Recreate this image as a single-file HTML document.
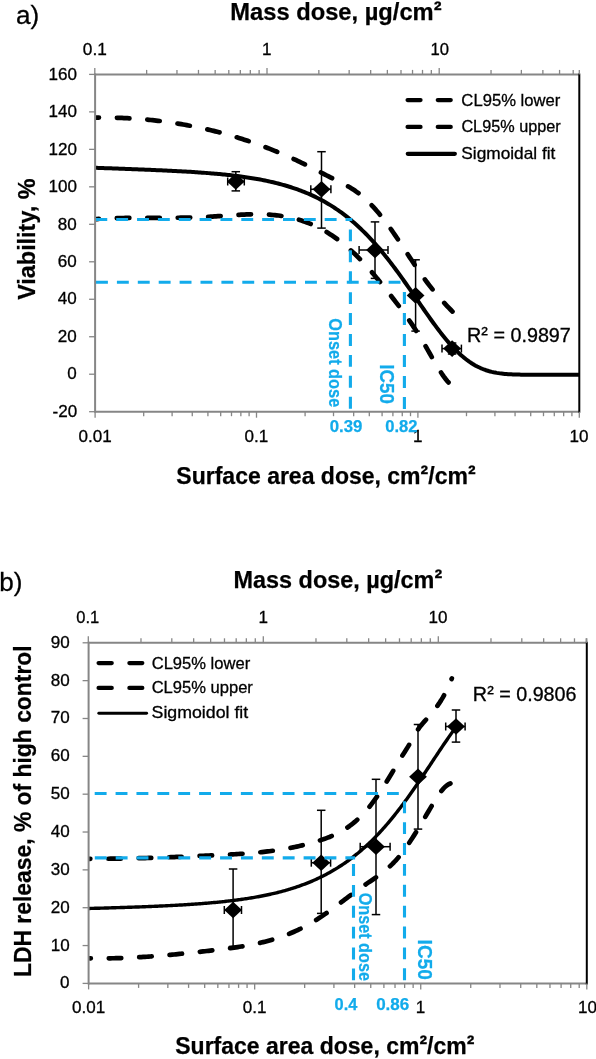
<!DOCTYPE html><html><head><meta charset="utf-8"><style>html,body{margin:0;padding:0;background:#fff;}svg{display:block;will-change:transform;}text{font-family:"Liberation Sans",sans-serif;}</style></head><body>
<svg width="596" height="1059" viewBox="0 0 596 1059">
<rect width="596" height="1059" fill="#fff"/>
<clipPath id="ca"><rect x="95.1" y="73.4" width="484.2" height="339.3"/></clipPath>
<path d="M95.1 117.59 L96.9 117.57 L98.69 117.56 L100.49 117.55 L102.28 117.55 L104.08 117.56 L105.88 117.57 L107.67 117.59 L109.47 117.61 L111.26 117.64 L113.06 117.68 L114.86 117.73 L116.65 117.78 L118.45 117.83 L120.24 117.9 L122.04 117.97 L123.84 118.05 L125.63 118.13 L127.43 118.22 L129.22 118.32 L131.02 118.42 L132.82 118.53 L134.61 118.65 L136.41 118.77 L138.2 118.9 L140 119.04 L141.8 119.18 L143.59 119.34 L145.39 119.49 L147.18 119.66 L148.98 119.83 L150.78 120.01 L152.57 120.2 L154.37 120.39 L156.16 120.59 L157.96 120.8 L159.76 121.01 L161.55 121.23 L163.35 121.46 L165.14 121.7 L166.94 121.94 L168.74 122.19 L170.53 122.45 L172.33 122.72 L174.12 122.99 L175.92 123.27 L177.72 123.56 L179.51 123.85 L181.31 124.15 L183.1 124.46 L184.9 124.78 L186.69 125.11 L188.49 125.44 L190.29 125.78 L192.08 126.13 L193.88 126.48 L195.67 126.84 L197.47 127.21 L199.27 127.59 L201.06 127.98 L202.86 128.37 L204.65 128.77 L206.45 129.18 L208.25 129.6 L210.04 130.03 L211.84 130.46 L213.63 130.9 L215.43 131.35 L217.23 131.81 L219.02 132.27 L220.82 132.74 L222.61 133.23 L224.41 133.72 L226.21 134.21 L228 134.72 L229.8 135.23 L231.59 135.75 L233.39 136.28 L235.19 136.82 L236.98 137.37 L238.78 137.92 L240.57 138.49 L242.37 139.06 L244.17 139.64 L245.96 140.23 L247.76 140.82 L249.55 141.43 L251.35 142.04 L253.15 142.66 L254.94 143.3 L256.74 143.93 L258.53 144.58 L260.33 145.24 L262.13 145.9 L263.92 146.58 L265.72 147.26 L267.51 147.95 L269.31 148.65 L271.11 149.36 L272.9 150.08 L274.7 150.81 L276.49 151.54 L278.29 152.29 L280.09 153.04 L281.88 153.8 L283.68 154.57 L285.47 155.35 L287.27 156.14 L289.07 156.94 L290.86 157.75 L292.66 158.56 L294.45 159.39 L296.25 160.22 L298.05 161.07 L299.84 161.92 L301.64 162.78 L303.43 163.65 L305.23 164.54 L307.03 165.43 L308.82 166.32 L310.62 167.23 L312.41 168.14 L314.21 169.06 L316.01 169.98 L317.8 170.91 L319.6 171.83 L321.39 172.76 L323.19 173.68 L324.99 174.6 L326.78 175.52 L328.58 176.44 L330.37 177.34 L332.17 178.24 L333.97 179.14 L335.76 180.02 L337.56 180.9 L339.35 181.79 L341.15 182.69 L342.95 183.61 L344.74 184.55 L346.54 185.52 L348.33 186.53 L350.13 187.58 L351.93 188.68 L353.72 189.83 L355.52 191.04 L357.31 192.32 L359.11 193.68 L360.91 195.11 L362.7 196.61 L364.5 198.2 L366.29 199.85 L368.09 201.57 L369.88 203.37 L371.68 205.23 L373.48 207.17 L375.27 209.16 L377.07 211.23 L378.86 213.35 L380.66 215.54 L382.46 217.79 L384.25 220.1 L386.05 222.47 L387.84 224.89 L389.64 227.37 L391.44 229.9 L393.23 232.48 L395.03 235.1 L396.82 237.75 L398.62 240.44 L400.42 243.14 L402.21 245.87 L404.01 248.61 L405.8 251.35 L407.6 254.1 L409.4 256.84 L411.19 259.57 L412.99 262.29 L414.78 264.98 L416.58 267.64 L418.38 270.28 L420.17 272.87 L421.97 275.42 L423.76 277.92 L425.56 280.36 L427.36 282.75 L429.15 285.09 L430.95 287.38 L432.74 289.63 L434.54 291.82 L436.34 293.97 L438.13 296.08 L439.93 298.15 L441.72 300.17 L443.52 302.16 L445.32 304.11 L447.11 306.02 L448.91 307.9 L450.7 309.75 L452.5 311.56" fill="none" stroke="#000" stroke-width="4.7" stroke-linecap="round" stroke-linejoin="round" stroke-dasharray="12.5 17.95" stroke-dashoffset="8.63" clip-path="url(#ca)"/>
<path d="M95.1 219.19 L96.88 219.06 L98.66 218.95 L100.44 218.84 L102.22 218.73 L104 218.64 L105.78 218.55 L107.56 218.47 L109.34 218.39 L111.11 218.32 L112.89 218.26 L114.67 218.2 L116.45 218.15 L118.23 218.1 L120.01 218.05 L121.79 218.01 L123.57 217.98 L125.35 217.95 L127.13 217.92 L128.91 217.9 L130.69 217.87 L132.47 217.86 L134.25 217.84 L136.03 217.83 L137.81 217.82 L139.58 217.82 L141.36 217.81 L143.14 217.81 L144.92 217.8 L146.7 217.8 L148.48 217.8 L150.26 217.81 L152.04 217.81 L153.82 217.81 L155.6 217.81 L157.38 217.81 L159.16 217.82 L160.94 217.82 L162.72 217.82 L164.5 217.82 L166.28 217.81 L168.06 217.81 L169.83 217.81 L171.61 217.8 L173.39 217.79 L175.17 217.78 L176.95 217.76 L178.73 217.74 L180.51 217.72 L182.29 217.7 L184.07 217.67 L185.85 217.64 L187.63 217.6 L189.41 217.56 L191.19 217.52 L192.97 217.47 L194.75 217.42 L196.53 217.36 L198.31 217.29 L200.08 217.22 L201.86 217.14 L203.64 217.06 L205.42 216.97 L207.2 216.87 L208.98 216.77 L210.76 216.66 L212.54 216.55 L214.32 216.44 L216.1 216.32 L217.88 216.19 L219.66 216.07 L221.44 215.94 L223.22 215.82 L225 215.69 L226.78 215.57 L228.55 215.44 L230.33 215.32 L232.11 215.21 L233.89 215.09 L235.67 214.98 L237.45 214.88 L239.23 214.78 L241.01 214.69 L242.79 214.6 L244.57 214.53 L246.35 214.46 L248.13 214.4 L249.91 214.35 L251.69 214.31 L253.47 214.29 L255.25 214.27 L257.03 214.27 L258.8 214.29 L260.58 214.32 L262.36 214.36 L264.14 214.42 L265.92 214.49 L267.7 214.58 L269.48 214.7 L271.26 214.82 L273.04 214.97 L274.82 215.14 L276.6 215.33 L278.38 215.54 L280.16 215.78 L281.94 216.03 L283.72 216.31 L285.5 216.62 L287.27 216.95 L289.05 217.3 L290.83 217.68 L292.61 218.09 L294.39 218.53 L296.17 218.99 L297.95 219.49 L299.73 220.01 L301.51 220.57 L303.29 221.16 L305.07 221.78 L306.85 222.43 L308.63 223.12 L310.41 223.84 L312.19 224.59 L313.97 225.38 L315.75 226.21 L317.52 227.07 L319.3 227.97 L321.08 228.91 L322.86 229.88 L324.64 230.89 L326.42 231.94 L328.2 233.02 L329.98 234.15 L331.76 235.31 L333.54 236.51 L335.32 237.75 L337.1 239.03 L338.88 240.35 L340.66 241.71 L342.44 243.11 L344.22 244.55 L345.99 246.03 L347.77 247.55 L349.55 249.11 L351.33 250.71 L353.11 252.36 L354.89 254.04 L356.67 255.77 L358.45 257.55 L360.23 259.36 L362.01 261.22 L363.79 263.12 L365.57 265.05 L367.35 267.03 L369.13 269.04 L370.91 271.08 L372.69 273.15 L374.47 275.25 L376.24 277.38 L378.02 279.54 L379.8 281.71 L381.58 283.91 L383.36 286.13 L385.14 288.37 L386.92 290.62 L388.7 292.88 L390.48 295.16 L392.26 297.45 L394.04 299.75 L395.82 302.07 L397.6 304.41 L399.38 306.77 L401.16 309.16 L402.94 311.58 L404.72 314.03 L406.49 316.51 L408.27 319.03 L410.05 321.6 L411.83 324.2 L413.61 326.86 L415.39 329.56 L417.17 332.32 L418.95 335.14 L420.73 338.01 L422.51 340.95 L424.29 343.95 L426.07 347.01 L427.85 350.12 L429.63 353.25 L431.41 356.39 L433.19 359.5 L434.96 362.57 L436.74 365.58 L438.52 368.51 L440.3 371.34 L442.08 374.04 L443.86 376.6 L445.64 378.99 L447.42 381.2 L449.2 383.2" fill="none" stroke="#000" stroke-width="4.7" stroke-linecap="round" stroke-linejoin="round" stroke-dasharray="12.5 17.95" stroke-dashoffset="8.7" clip-path="url(#ca)"/>
<path d="M95.1 167.78 L96.72 167.84 L98.34 167.9 L99.96 167.96 L101.58 168.02 L103.2 168.08 L104.82 168.14 L106.44 168.2 L108.06 168.26 L109.67 168.31 L111.29 168.37 L112.91 168.43 L114.53 168.49 L116.15 168.55 L117.77 168.61 L119.39 168.67 L121.01 168.73 L122.63 168.79 L124.25 168.85 L125.87 168.91 L127.49 168.97 L129.11 169.03 L130.73 169.09 L132.35 169.15 L133.97 169.21 L135.58 169.27 L137.2 169.34 L138.82 169.4 L140.44 169.46 L142.06 169.53 L143.68 169.59 L145.3 169.66 L146.92 169.72 L148.54 169.79 L150.16 169.85 L151.78 169.92 L153.4 169.99 L155.02 170.06 L156.64 170.13 L158.26 170.2 L159.88 170.27 L161.5 170.34 L163.11 170.42 L164.73 170.49 L166.35 170.57 L167.97 170.64 L169.59 170.72 L171.21 170.8 L172.83 170.88 L174.45 170.96 L176.07 171.05 L177.69 171.13 L179.31 171.22 L180.93 171.31 L182.55 171.4 L184.17 171.49 L185.79 171.58 L187.41 171.68 L189.03 171.78 L190.64 171.87 L192.26 171.98 L193.88 172.08 L195.5 172.19 L197.12 172.29 L198.74 172.4 L200.36 172.52 L201.98 172.63 L203.6 172.75 L205.22 172.87 L206.84 173 L208.46 173.12 L210.08 173.26 L211.7 173.39 L213.32 173.53 L214.94 173.67 L216.55 173.81 L218.17 173.96 L219.79 174.11 L221.41 174.27 L223.03 174.43 L224.65 174.59 L226.27 174.76 L227.89 174.93 L229.51 175.11 L231.13 175.29 L232.75 175.48 L234.37 175.67 L235.99 175.87 L237.61 176.07 L239.23 176.28 L240.85 176.49 L242.47 176.71 L244.08 176.94 L245.7 177.17 L247.32 177.41 L248.94 177.66 L250.56 177.91 L252.18 178.17 L253.8 178.44 L255.42 178.72 L257.04 179 L258.66 179.29 L260.28 179.59 L261.9 179.9 L263.52 180.22 L265.14 180.55 L266.76 180.88 L268.38 181.23 L269.99 181.58 L271.61 181.95 L273.23 182.32 L274.85 182.71 L276.47 183.11 L278.09 183.52 L279.71 183.94 L281.33 184.37 L282.95 184.82 L284.57 185.28 L286.19 185.75 L287.81 186.24 L289.43 186.73 L291.05 187.25 L292.67 187.78 L294.29 188.32 L295.91 188.88 L297.52 189.45 L299.14 190.04 L300.76 190.65 L302.38 191.27 L304 191.91 L305.62 192.57 L307.24 193.25 L308.86 193.94 L310.48 194.66 L312.1 195.39 L313.72 196.15 L315.34 196.92 L316.96 197.72 L318.58 198.53 L320.2 199.37 L321.82 200.23 L323.44 201.12 L325.05 202.02 L326.67 202.95 L328.29 203.91 L329.91 204.89 L331.53 205.89 L333.15 206.92 L334.77 207.98 L336.39 209.06 L338.01 210.17 L339.63 211.31 L341.25 212.47 L342.87 213.67 L344.49 214.89 L346.11 216.14 L347.73 217.42 L349.35 218.73 L350.96 220.07 L352.58 221.44 L354.2 222.84 L355.82 224.27 L357.44 225.74 L359.06 227.23 L360.68 228.76 L362.3 230.32 L363.92 231.91 L365.54 233.53 L367.16 235.18 L368.78 236.87 L370.4 238.59 L372.02 240.34 L373.64 242.12 L375.26 243.94 L376.88 245.78 L378.49 247.66 L380.11 249.57 L381.73 251.51 L383.35 253.48 L384.97 255.48 L386.59 257.51 L388.21 259.56 L389.83 261.64 L391.45 263.75 L393.07 265.89 L394.69 268.05 L396.31 270.23 L397.93 272.44 L399.55 274.67 L401.17 276.92 L402.79 279.18 L404.41 281.47 L406.02 283.76 L407.64 286.08 L409.26 288.4 L410.88 290.73 L412.5 293.08 L414.12 295.42 L415.74 297.78 L417.36 300.13 L418.98 302.48 L420.6 304.83 L422.22 307.18 L423.84 309.51 L425.46 311.84 L427.08 314.15 L428.7 316.45 L430.32 318.73 L431.93 320.99 L433.55 323.22 L435.17 325.43 L436.79 327.61 L438.41 329.76 L440.03 331.87 L441.65 333.95 L443.27 335.99 L444.89 337.98 L446.51 339.93 L448.13 341.84 L449.75 343.7 L451.37 345.5 L452.99 347.26 L454.61 348.96 L456.23 350.6 L457.85 352.19 L459.46 353.71 L461.08 355.18 L462.7 356.59 L464.32 357.94 L465.94 359.22 L467.56 360.45 L469.18 361.61 L470.8 362.71 L472.42 363.75 L474.04 364.73 L475.66 365.65 L477.28 366.51 L478.9 367.31 L480.52 368.06 L482.14 368.75 L483.76 369.39 L485.37 369.98 L486.99 370.52 L488.61 371.01 L490.23 371.46 L491.85 371.87 L493.47 372.24 L495.09 372.57 L496.71 372.87 L498.33 373.13 L499.95 373.37 L501.57 373.57 L503.19 373.75 L504.81 373.91 L506.43 374.05 L508.05 374.17 L509.67 374.27 L511.29 374.36 L512.9 374.43 L514.52 374.49 L516.14 374.54 L517.76 374.59 L519.38 374.62 L521 374.65 L522.62 374.67 L524.24 374.69 L525.86 374.71 L527.48 374.72 L529.1 374.73 L530.72 374.73 L532.34 374.74 L533.96 374.74 L535.58 374.75 L537.2 374.75 L538.82 374.75 L540.43 374.75 L542.05 374.75 L543.67 374.75 L545.29 374.75 L546.91 374.75 L548.53 374.75 L550.15 374.76 L551.77 374.76 L553.39 374.76 L555.01 374.76 L556.63 374.76 L558.25 374.76 L559.87 374.77 L561.49 374.77 L563.11 374.77 L564.73 374.77 L566.34 374.78 L567.96 374.78 L569.58 374.78 L571.2 374.79 L572.82 374.79 L574.44 374.79 L576.06 374.8 L577.68 374.8 L579.3 374.81" fill="none" stroke="#000" stroke-width="4" stroke-linecap="round" stroke-linejoin="round" clip-path="url(#ca)"/>
<line x1="235.8" y1="171.7" x2="235.8" y2="190.9" stroke="#000" stroke-width="1.5"/>
<line x1="231.55" y1="171.7" x2="240.05" y2="171.7" stroke="#000" stroke-width="1.5"/>
<line x1="231.55" y1="190.9" x2="240.05" y2="190.9" stroke="#000" stroke-width="1.5"/>
<line x1="227.7" y1="181.5" x2="244.3" y2="181.5" stroke="#000" stroke-width="1.5"/>
<line x1="227.7" y1="177.5" x2="227.7" y2="185.5" stroke="#000" stroke-width="1.5"/>
<line x1="244.3" y1="177.5" x2="244.3" y2="185.5" stroke="#000" stroke-width="1.5"/>
<line x1="321.5" y1="151.7" x2="321.5" y2="228.1" stroke="#000" stroke-width="1.5"/>
<line x1="317.25" y1="151.7" x2="325.75" y2="151.7" stroke="#000" stroke-width="1.5"/>
<line x1="317.25" y1="228.1" x2="325.75" y2="228.1" stroke="#000" stroke-width="1.5"/>
<line x1="310.8" y1="189.3" x2="330.9" y2="189.3" stroke="#000" stroke-width="1.5"/>
<line x1="310.8" y1="185.3" x2="310.8" y2="193.3" stroke="#000" stroke-width="1.5"/>
<line x1="330.9" y1="185.3" x2="330.9" y2="193.3" stroke="#000" stroke-width="1.5"/>
<line x1="375" y1="221.9" x2="375" y2="278.4" stroke="#000" stroke-width="1.5"/>
<line x1="370.75" y1="221.9" x2="379.25" y2="221.9" stroke="#000" stroke-width="1.5"/>
<line x1="370.75" y1="278.4" x2="379.25" y2="278.4" stroke="#000" stroke-width="1.5"/>
<line x1="359.1" y1="250" x2="388" y2="250" stroke="#000" stroke-width="1.5"/>
<line x1="359.1" y1="246" x2="359.1" y2="254" stroke="#000" stroke-width="1.5"/>
<line x1="388" y1="246" x2="388" y2="254" stroke="#000" stroke-width="1.5"/>
<line x1="415.6" y1="259.8" x2="415.6" y2="331.1" stroke="#000" stroke-width="1.5"/>
<line x1="411.35" y1="259.8" x2="419.85" y2="259.8" stroke="#000" stroke-width="1.5"/>
<line x1="411.35" y1="331.1" x2="419.85" y2="331.1" stroke="#000" stroke-width="1.5"/>
<line x1="452.1" y1="343" x2="452.1" y2="354" stroke="#000" stroke-width="1.5"/>
<line x1="447.85" y1="343" x2="456.35" y2="343" stroke="#000" stroke-width="1.5"/>
<line x1="447.85" y1="354" x2="456.35" y2="354" stroke="#000" stroke-width="1.5"/>
<line x1="442" y1="348.6" x2="461.4" y2="348.6" stroke="#000" stroke-width="1.5"/>
<line x1="442" y1="344.6" x2="442" y2="352.6" stroke="#000" stroke-width="1.5"/>
<line x1="461.4" y1="344.6" x2="461.4" y2="352.6" stroke="#000" stroke-width="1.5"/>
<path d="M235.8 173.2 L244.7 181.5 L235.8 189.8 L226.9 181.5 Z" fill="#000"/>
<path d="M321.5 181 L330.4 189.3 L321.5 197.6 L312.6 189.3 Z" fill="#000"/>
<path d="M375 241.7 L383.9 250 L375 258.3 L366.1 250 Z" fill="#000"/>
<path d="M415.6 287.1 L424.5 295.4 L415.6 303.7 L406.7 295.4 Z" fill="#000"/>
<path d="M452.1 340.3 L461 348.6 L452.1 356.9 L443.2 348.6 Z" fill="#000"/>
<line x1="95.35" y1="219.5" x2="352.3" y2="219.5" stroke="#12ABEB" stroke-width="3.1" stroke-dasharray="11.9 8.95" stroke-dashoffset="0"/>
<line x1="350.4" y1="229.4" x2="350.4" y2="411.7" stroke="#12ABEB" stroke-width="3.1" stroke-dasharray="11.9 9.02" stroke-dashoffset="0"/>
<line x1="96" y1="282.3" x2="400.6" y2="282.3" stroke="#12ABEB" stroke-width="3.1" stroke-dasharray="11.9 9" stroke-dashoffset="0"/>
<line x1="404.4" y1="292.1" x2="404.4" y2="411.7" stroke="#12ABEB" stroke-width="3.1" stroke-dasharray="11.9 9.1" stroke-dashoffset="0"/>
<line x1="95.1" y1="74.4" x2="579.3" y2="74.4" stroke="#868686" stroke-width="2"/>
<line x1="95.1" y1="411.7" x2="579.3" y2="411.7" stroke="#868686" stroke-width="2"/>
<line x1="95.1" y1="73.4" x2="95.1" y2="412.7" stroke="#868686" stroke-width="2"/>
<line x1="579.3" y1="73.4" x2="579.3" y2="412.7" stroke="#000" stroke-width="2"/>
<line x1="89.1" y1="411.7" x2="95.1" y2="411.7" stroke="#868686" stroke-width="1.3"/>
<line x1="89.1" y1="374.22" x2="95.1" y2="374.22" stroke="#868686" stroke-width="1.3"/>
<line x1="89.1" y1="336.74" x2="95.1" y2="336.74" stroke="#868686" stroke-width="1.3"/>
<line x1="89.1" y1="299.27" x2="95.1" y2="299.27" stroke="#868686" stroke-width="1.3"/>
<line x1="89.1" y1="261.79" x2="95.1" y2="261.79" stroke="#868686" stroke-width="1.3"/>
<line x1="89.1" y1="224.31" x2="95.1" y2="224.31" stroke="#868686" stroke-width="1.3"/>
<line x1="89.1" y1="186.83" x2="95.1" y2="186.83" stroke="#868686" stroke-width="1.3"/>
<line x1="89.1" y1="149.36" x2="95.1" y2="149.36" stroke="#868686" stroke-width="1.3"/>
<line x1="89.1" y1="111.88" x2="95.1" y2="111.88" stroke="#868686" stroke-width="1.3"/>
<line x1="89.1" y1="74.4" x2="95.1" y2="74.4" stroke="#868686" stroke-width="1.3"/>
<line x1="95.1" y1="411.7" x2="95.1" y2="417.7" stroke="#868686" stroke-width="1.3"/>
<line x1="143.69" y1="411.7" x2="143.69" y2="416.2" stroke="#868686" stroke-width="1.3"/>
<line x1="172.11" y1="411.7" x2="172.11" y2="416.2" stroke="#868686" stroke-width="1.3"/>
<line x1="192.27" y1="411.7" x2="192.27" y2="416.2" stroke="#868686" stroke-width="1.3"/>
<line x1="207.91" y1="411.7" x2="207.91" y2="416.2" stroke="#868686" stroke-width="1.3"/>
<line x1="220.69" y1="411.7" x2="220.69" y2="416.2" stroke="#868686" stroke-width="1.3"/>
<line x1="231.5" y1="411.7" x2="231.5" y2="416.2" stroke="#868686" stroke-width="1.3"/>
<line x1="240.86" y1="411.7" x2="240.86" y2="416.2" stroke="#868686" stroke-width="1.3"/>
<line x1="249.11" y1="411.7" x2="249.11" y2="416.2" stroke="#868686" stroke-width="1.3"/>
<line x1="256.5" y1="411.7" x2="256.5" y2="417.7" stroke="#868686" stroke-width="1.3"/>
<line x1="305.09" y1="411.7" x2="305.09" y2="416.2" stroke="#868686" stroke-width="1.3"/>
<line x1="333.51" y1="411.7" x2="333.51" y2="416.2" stroke="#868686" stroke-width="1.3"/>
<line x1="353.67" y1="411.7" x2="353.67" y2="416.2" stroke="#868686" stroke-width="1.3"/>
<line x1="369.31" y1="411.7" x2="369.31" y2="416.2" stroke="#868686" stroke-width="1.3"/>
<line x1="382.09" y1="411.7" x2="382.09" y2="416.2" stroke="#868686" stroke-width="1.3"/>
<line x1="392.9" y1="411.7" x2="392.9" y2="416.2" stroke="#868686" stroke-width="1.3"/>
<line x1="402.26" y1="411.7" x2="402.26" y2="416.2" stroke="#868686" stroke-width="1.3"/>
<line x1="410.51" y1="411.7" x2="410.51" y2="416.2" stroke="#868686" stroke-width="1.3"/>
<line x1="417.9" y1="411.7" x2="417.9" y2="417.7" stroke="#868686" stroke-width="1.3"/>
<line x1="466.49" y1="411.7" x2="466.49" y2="416.2" stroke="#868686" stroke-width="1.3"/>
<line x1="494.91" y1="411.7" x2="494.91" y2="416.2" stroke="#868686" stroke-width="1.3"/>
<line x1="515.07" y1="411.7" x2="515.07" y2="416.2" stroke="#868686" stroke-width="1.3"/>
<line x1="530.71" y1="411.7" x2="530.71" y2="416.2" stroke="#868686" stroke-width="1.3"/>
<line x1="543.49" y1="411.7" x2="543.49" y2="416.2" stroke="#868686" stroke-width="1.3"/>
<line x1="554.3" y1="411.7" x2="554.3" y2="416.2" stroke="#868686" stroke-width="1.3"/>
<line x1="563.66" y1="411.7" x2="563.66" y2="416.2" stroke="#868686" stroke-width="1.3"/>
<line x1="571.91" y1="411.7" x2="571.91" y2="416.2" stroke="#868686" stroke-width="1.3"/>
<line x1="579.3" y1="411.7" x2="579.3" y2="417.7" stroke="#868686" stroke-width="1.3"/>
<line x1="94.8" y1="74.4" x2="94.8" y2="67.9" stroke="#868686" stroke-width="1.3"/>
<line x1="146.64" y1="74.4" x2="146.64" y2="69.9" stroke="#868686" stroke-width="1.3"/>
<line x1="176.96" y1="74.4" x2="176.96" y2="69.9" stroke="#868686" stroke-width="1.3"/>
<line x1="198.47" y1="74.4" x2="198.47" y2="69.9" stroke="#868686" stroke-width="1.3"/>
<line x1="215.16" y1="74.4" x2="215.16" y2="69.9" stroke="#868686" stroke-width="1.3"/>
<line x1="228.8" y1="74.4" x2="228.8" y2="69.9" stroke="#868686" stroke-width="1.3"/>
<line x1="240.33" y1="74.4" x2="240.33" y2="69.9" stroke="#868686" stroke-width="1.3"/>
<line x1="250.31" y1="74.4" x2="250.31" y2="69.9" stroke="#868686" stroke-width="1.3"/>
<line x1="259.12" y1="74.4" x2="259.12" y2="69.9" stroke="#868686" stroke-width="1.3"/>
<line x1="267" y1="74.4" x2="267" y2="67.9" stroke="#868686" stroke-width="1.3"/>
<line x1="318.84" y1="74.4" x2="318.84" y2="69.9" stroke="#868686" stroke-width="1.3"/>
<line x1="349.16" y1="74.4" x2="349.16" y2="69.9" stroke="#868686" stroke-width="1.3"/>
<line x1="370.67" y1="74.4" x2="370.67" y2="69.9" stroke="#868686" stroke-width="1.3"/>
<line x1="387.36" y1="74.4" x2="387.36" y2="69.9" stroke="#868686" stroke-width="1.3"/>
<line x1="401" y1="74.4" x2="401" y2="69.9" stroke="#868686" stroke-width="1.3"/>
<line x1="412.53" y1="74.4" x2="412.53" y2="69.9" stroke="#868686" stroke-width="1.3"/>
<line x1="422.51" y1="74.4" x2="422.51" y2="69.9" stroke="#868686" stroke-width="1.3"/>
<line x1="431.32" y1="74.4" x2="431.32" y2="69.9" stroke="#868686" stroke-width="1.3"/>
<line x1="439.2" y1="74.4" x2="439.2" y2="67.9" stroke="#868686" stroke-width="1.3"/>
<line x1="491.04" y1="74.4" x2="491.04" y2="69.9" stroke="#868686" stroke-width="1.3"/>
<line x1="521.36" y1="74.4" x2="521.36" y2="69.9" stroke="#868686" stroke-width="1.3"/>
<line x1="542.87" y1="74.4" x2="542.87" y2="69.9" stroke="#868686" stroke-width="1.3"/>
<line x1="559.56" y1="74.4" x2="559.56" y2="69.9" stroke="#868686" stroke-width="1.3"/>
<line x1="573.2" y1="74.4" x2="573.2" y2="69.9" stroke="#868686" stroke-width="1.3"/>
<line x1="579.3" y1="74.4" x2="579.3" y2="69.9" stroke="#868686" stroke-width="1.3"/>
<clipPath id="cb"><rect x="88.6" y="641.8" width="498.2" height="342.6"/></clipPath>
<path d="M88.6 858.78 L90.43 858.79 L92.25 858.8 L94.08 858.8 L95.9 858.8 L97.73 858.8 L99.55 858.79 L101.38 858.79 L103.2 858.78 L105.03 858.77 L106.85 858.76 L108.68 858.74 L110.5 858.72 L112.33 858.7 L114.16 858.68 L115.98 858.66 L117.81 858.63 L119.63 858.61 L121.46 858.58 L123.28 858.55 L125.11 858.51 L126.93 858.48 L128.76 858.44 L130.58 858.4 L132.41 858.36 L134.23 858.32 L136.06 858.28 L137.89 858.23 L139.71 858.18 L141.54 858.13 L143.36 858.08 L145.19 858.03 L147.01 857.98 L148.84 857.92 L150.66 857.87 L152.49 857.81 L154.31 857.75 L156.14 857.69 L157.96 857.63 L159.79 857.57 L161.62 857.5 L163.44 857.44 L165.27 857.37 L167.09 857.31 L168.92 857.24 L170.74 857.17 L172.57 857.1 L174.39 857.03 L176.22 856.95 L178.04 856.88 L179.87 856.81 L181.69 856.73 L183.52 856.65 L185.34 856.58 L187.17 856.5 L189 856.42 L190.82 856.34 L192.65 856.26 L194.47 856.18 L196.3 856.1 L198.12 856.02 L199.95 855.94 L201.77 855.86 L203.6 855.78 L205.42 855.69 L207.25 855.61 L209.07 855.52 L210.9 855.44 L212.73 855.36 L214.55 855.27 L216.38 855.19 L218.2 855.1 L220.03 855.01 L221.85 854.92 L223.68 854.83 L225.5 854.74 L227.33 854.65 L229.15 854.55 L230.98 854.45 L232.8 854.35 L234.63 854.24 L236.46 854.13 L238.28 854.02 L240.11 853.9 L241.93 853.78 L243.76 853.65 L245.58 853.52 L247.41 853.38 L249.23 853.23 L251.06 853.09 L252.88 852.93 L254.71 852.77 L256.53 852.6 L258.36 852.42 L260.19 852.24 L262.01 852.05 L263.84 851.85 L265.66 851.65 L267.49 851.43 L269.31 851.21 L271.14 850.97 L272.96 850.73 L274.79 850.48 L276.61 850.22 L278.44 849.95 L280.26 849.66 L282.09 849.37 L283.92 849.07 L285.74 848.75 L287.57 848.43 L289.39 848.09 L291.22 847.74 L293.04 847.37 L294.87 847 L296.69 846.61 L298.52 846.21 L300.34 845.79 L302.17 845.36 L303.99 844.92 L305.82 844.46 L307.65 843.99 L309.47 843.5 L311.3 843 L313.12 842.48 L314.95 841.95 L316.77 841.4 L318.6 840.83 L320.42 840.25 L322.25 839.64 L324.07 839.02 L325.9 838.36 L327.72 837.67 L329.55 836.96 L331.38 836.2 L333.2 835.41 L335.03 834.57 L336.85 833.69 L338.68 832.76 L340.5 831.77 L342.33 830.74 L344.15 829.64 L345.98 828.48 L347.8 827.26 L349.63 825.97 L351.45 824.61 L353.28 823.18 L355.11 821.67 L356.93 820.08 L358.76 818.41 L360.58 816.65 L362.41 814.81 L364.23 812.87 L366.06 810.83 L367.88 808.7 L369.71 806.46 L371.53 804.13 L373.36 801.7 L375.18 799.18 L377.01 796.59 L378.83 793.91 L380.66 791.17 L382.49 788.35 L384.31 785.48 L386.14 782.56 L387.96 779.58 L389.79 776.56 L391.61 773.5 L393.44 770.41 L395.26 767.3 L397.09 764.21 L398.91 761.15 L400.74 758.17 L402.56 755.29 L404.39 752.45 L406.22 749.59 L408.04 746.63 L409.87 743.51 L411.69 740.24 L413.52 736.94 L415.34 733.74 L417.17 730.75 L418.99 728.07 L420.82 725.66 L422.64 723.45 L424.47 721.36 L426.29 719.34 L428.12 717.31 L429.95 715.24 L431.77 713.11 L433.6 710.89 L435.42 708.55 L437.25 706.08 L439.07 703.44 L440.9 700.62 L442.72 697.59 L444.55 694.32 L446.37 690.79 L448.2 686.97 L450.02 682.84 L451.85 678.38" fill="none" stroke="#000" stroke-width="4.7" stroke-linecap="round" stroke-linejoin="round" stroke-dasharray="12.5 17.95" stroke-dashoffset="10.76" clip-path="url(#cb)"/>
<path d="M88.6 958.25 L90.42 958.29 L92.24 958.32 L94.05 958.34 L95.87 958.36 L97.69 958.38 L99.51 958.38 L101.33 958.38 L103.14 958.38 L104.96 958.37 L106.78 958.35 L108.6 958.33 L110.42 958.31 L112.24 958.27 L114.05 958.24 L115.87 958.19 L117.69 958.14 L119.51 958.09 L121.33 958.03 L123.14 957.97 L124.96 957.9 L126.78 957.83 L128.6 957.75 L130.42 957.67 L132.23 957.58 L134.05 957.49 L135.87 957.39 L137.69 957.29 L139.51 957.19 L141.32 957.08 L143.14 956.97 L144.96 956.85 L146.78 956.73 L148.6 956.61 L150.42 956.48 L152.23 956.35 L154.05 956.21 L155.87 956.07 L157.69 955.93 L159.51 955.78 L161.32 955.63 L163.14 955.48 L164.96 955.32 L166.78 955.16 L168.6 955 L170.41 954.83 L172.23 954.66 L174.05 954.49 L175.87 954.32 L177.69 954.14 L179.5 953.96 L181.32 953.78 L183.14 953.6 L184.96 953.41 L186.78 953.22 L188.59 953.03 L190.41 952.84 L192.23 952.64 L194.05 952.45 L195.87 952.25 L197.69 952.05 L199.5 951.84 L201.32 951.64 L203.14 951.43 L204.96 951.22 L206.78 951.02 L208.59 950.81 L210.41 950.59 L212.23 950.38 L214.05 950.17 L215.87 949.95 L217.68 949.73 L219.5 949.52 L221.32 949.29 L223.14 949.07 L224.96 948.84 L226.77 948.6 L228.59 948.36 L230.41 948.12 L232.23 947.87 L234.05 947.61 L235.87 947.35 L237.68 947.07 L239.5 946.79 L241.32 946.5 L243.14 946.2 L244.96 945.89 L246.77 945.57 L248.59 945.24 L250.41 944.9 L252.23 944.54 L254.05 944.17 L255.86 943.79 L257.68 943.4 L259.5 942.99 L261.32 942.56 L263.14 942.12 L264.95 941.67 L266.77 941.2 L268.59 940.71 L270.41 940.2 L272.23 939.67 L274.05 939.13 L275.86 938.57 L277.68 937.98 L279.5 937.38 L281.32 936.75 L283.14 936.11 L284.95 935.44 L286.77 934.75 L288.59 934.04 L290.41 933.3 L292.23 932.54 L294.04 931.75 L295.86 930.94 L297.68 930.1 L299.5 929.24 L301.32 928.34 L303.13 927.43 L304.95 926.48 L306.77 925.5 L308.59 924.5 L310.41 923.46 L312.23 922.4 L314.04 921.3 L315.86 920.18 L317.68 919.02 L319.5 917.84 L321.32 916.63 L323.13 915.4 L324.95 914.14 L326.77 912.87 L328.59 911.58 L330.41 910.27 L332.22 908.95 L334.04 907.61 L335.86 906.27 L337.68 904.92 L339.5 903.55 L341.31 902.19 L343.13 900.82 L344.95 899.45 L346.77 898.09 L348.59 896.72 L350.41 895.36 L352.22 894.01 L354.04 892.66 L355.86 891.33 L357.68 890.01 L359.5 888.7 L361.31 887.41 L363.13 886.14 L364.95 884.88 L366.77 883.65 L368.59 882.42 L370.4 881.2 L372.22 879.97 L374.04 878.73 L375.86 877.47 L377.68 876.19 L379.49 874.87 L381.31 873.51 L383.13 872.1 L384.95 870.64 L386.77 869.12 L388.58 867.53 L390.4 865.86 L392.22 864.1 L394.04 862.26 L395.86 860.32 L397.68 858.27 L399.49 856.11 L401.31 853.84 L403.13 851.46 L404.95 848.98 L406.77 846.42 L408.58 843.77 L410.4 841.04 L412.22 838.24 L414.04 835.38 L415.86 832.47 L417.67 829.51 L419.49 826.52 L421.31 823.49 L423.13 820.43 L424.95 817.36 L426.76 814.28 L428.58 811.2 L430.4 808.12 L432.22 805.06 L434.04 802.03 L435.86 799.08 L437.67 796.25 L439.49 793.58 L441.31 791.12 L443.13 788.91 L444.95 787 L446.76 785.43 L448.58 784.24 L450.4 783.48" fill="none" stroke="#000" stroke-width="4.7" stroke-linecap="round" stroke-linejoin="round" stroke-dasharray="12.5 17.95" stroke-dashoffset="10.27" clip-path="url(#cb)"/>
<path d="M88.6 908.49 L89.83 908.45 L91.06 908.42 L92.28 908.39 L93.51 908.35 L94.74 908.32 L95.97 908.28 L97.2 908.25 L98.42 908.22 L99.65 908.18 L100.88 908.15 L102.11 908.11 L103.34 908.08 L104.57 908.04 L105.79 908 L107.02 907.97 L108.25 907.93 L109.48 907.9 L110.71 907.86 L111.93 907.82 L113.16 907.79 L114.39 907.75 L115.62 907.71 L116.85 907.67 L118.07 907.63 L119.3 907.6 L120.53 907.56 L121.76 907.52 L122.99 907.48 L124.21 907.44 L125.44 907.4 L126.67 907.36 L127.9 907.32 L129.13 907.27 L130.36 907.23 L131.58 907.19 L132.81 907.15 L134.04 907.1 L135.27 907.06 L136.5 907.02 L137.72 906.97 L138.95 906.93 L140.18 906.88 L141.41 906.84 L142.64 906.79 L143.86 906.74 L145.09 906.69 L146.32 906.65 L147.55 906.6 L148.78 906.55 L150 906.5 L151.23 906.45 L152.46 906.4 L153.69 906.34 L154.92 906.29 L156.15 906.24 L157.37 906.18 L158.6 906.13 L159.83 906.07 L161.06 906.02 L162.29 905.96 L163.51 905.9 L164.74 905.84 L165.97 905.79 L167.2 905.73 L168.43 905.66 L169.65 905.6 L170.88 905.54 L172.11 905.48 L173.34 905.41 L174.57 905.34 L175.79 905.28 L177.02 905.21 L178.25 905.14 L179.48 905.07 L180.71 905 L181.94 904.93 L183.16 904.85 L184.39 904.78 L185.62 904.7 L186.85 904.63 L188.08 904.55 L189.3 904.47 L190.53 904.39 L191.76 904.31 L192.99 904.22 L194.22 904.14 L195.44 904.05 L196.67 903.96 L197.9 903.87 L199.13 903.78 L200.36 903.69 L201.58 903.6 L202.81 903.5 L204.04 903.4 L205.27 903.3 L206.5 903.2 L207.73 903.1 L208.95 903 L210.18 902.89 L211.41 902.78 L212.64 902.67 L213.87 902.56 L215.09 902.44 L216.32 902.33 L217.55 902.21 L218.78 902.09 L220.01 901.96 L221.23 901.84 L222.46 901.71 L223.69 901.58 L224.92 901.45 L226.15 901.31 L227.37 901.17 L228.6 901.03 L229.83 900.89 L231.06 900.74 L232.29 900.59 L233.52 900.44 L234.74 900.29 L235.97 900.13 L237.2 899.97 L238.43 899.81 L239.66 899.64 L240.88 899.47 L242.11 899.3 L243.34 899.12 L244.57 898.94 L245.8 898.75 L247.02 898.57 L248.25 898.38 L249.48 898.18 L250.71 897.98 L251.94 897.78 L253.16 897.57 L254.39 897.36 L255.62 897.15 L256.85 896.93 L258.08 896.71 L259.31 896.48 L260.53 896.25 L261.76 896.01 L262.99 895.77 L264.22 895.53 L265.45 895.28 L266.67 895.02 L267.9 894.76 L269.13 894.49 L270.36 894.22 L271.59 893.95 L272.81 893.66 L274.04 893.38 L275.27 893.08 L276.5 892.78 L277.73 892.48 L278.95 892.17 L280.18 891.85 L281.41 891.53 L282.64 891.2 L283.87 890.86 L285.09 890.52 L286.32 890.17 L287.55 889.82 L288.78 889.45 L290.01 889.08 L291.24 888.71 L292.46 888.32 L293.69 887.93 L294.92 887.53 L296.15 887.12 L297.38 886.71 L298.6 886.29 L299.83 885.85 L301.06 885.41 L302.29 884.97 L303.52 884.51 L304.74 884.04 L305.97 883.57 L307.2 883.09 L308.43 882.59 L309.66 882.09 L310.88 881.58 L312.11 881.06 L313.34 880.53 L314.57 879.99 L315.8 879.44 L317.03 878.87 L318.25 878.3 L319.48 877.72 L320.71 877.13 L321.94 876.52 L323.17 875.91 L324.39 875.28 L325.62 874.64 L326.85 873.99 L328.08 873.33 L329.31 872.66 L330.53 871.97 L331.76 871.27 L332.99 870.56 L334.22 869.84 L335.45 869.1 L336.67 868.35 L337.9 867.59 L339.13 866.81 L340.36 866.02 L341.59 865.22 L342.82 864.4 L344.04 863.57 L345.27 862.73 L346.5 861.87 L347.73 861 L348.96 860.11 L350.18 859.2 L351.41 858.28 L352.64 857.35 L353.87 856.4 L355.1 855.43 L356.32 854.45 L357.55 853.45 L358.78 852.44 L360.01 851.41 L361.24 850.36 L362.46 849.29 L363.69 848.21 L364.92 847.11 L366.15 845.99 L367.38 844.86 L368.61 843.71 L369.83 842.54 L371.06 841.35 L372.29 840.14 L373.52 838.92 L374.75 837.68 L375.97 836.42 L377.2 835.14 L378.43 833.84 L379.66 832.53 L380.89 831.19 L382.11 829.84 L383.34 828.47 L384.57 827.08 L385.8 825.68 L387.03 824.25 L388.25 822.81 L389.48 821.35 L390.71 819.87 L391.94 818.38 L393.17 816.87 L394.4 815.34 L395.62 813.79 L396.85 812.23 L398.08 810.65 L399.31 809.06 L400.54 807.44 L401.76 805.82 L402.99 804.17 L404.22 802.52 L405.45 800.84 L406.68 799.16 L407.9 797.46 L409.13 795.74 L410.36 794.02 L411.59 792.28 L412.82 790.53 L414.04 788.76 L415.27 786.99 L416.5 785.21 L417.73 783.41 L418.96 781.61 L420.19 779.8 L421.41 777.98 L422.64 776.15 L423.87 774.32 L425.1 772.48 L426.33 770.64 L427.55 768.8 L428.78 766.95 L430.01 765.09 L431.24 763.24 L432.47 761.38 L433.69 759.53 L434.92 757.68 L436.15 755.83 L437.38 753.98 L438.61 752.13 L439.83 750.29 L441.06 748.46 L442.29 746.63 L443.52 744.82 L444.75 743.01 L445.98 741.21 L447.2 739.42 L448.43 737.64 L449.66 735.88 L450.89 734.13 L452.12 732.39 L453.34 730.68 L454.57 728.98 L455.8 727.29" fill="none" stroke="#000" stroke-width="3.4" stroke-linecap="round" stroke-linejoin="round" clip-path="url(#cb)"/>
<line x1="233.1" y1="869" x2="233.1" y2="946.5" stroke="#000" stroke-width="1.5"/>
<line x1="228.85" y1="869" x2="237.35" y2="869" stroke="#000" stroke-width="1.5"/>
<line x1="228.85" y1="946.5" x2="237.35" y2="946.5" stroke="#000" stroke-width="1.5"/>
<line x1="224.3" y1="910" x2="241.5" y2="910" stroke="#000" stroke-width="1.5"/>
<line x1="224.3" y1="906" x2="224.3" y2="914" stroke="#000" stroke-width="1.5"/>
<line x1="241.5" y1="906" x2="241.5" y2="914" stroke="#000" stroke-width="1.5"/>
<line x1="321.2" y1="810.3" x2="321.2" y2="913.4" stroke="#000" stroke-width="1.5"/>
<line x1="316.95" y1="810.3" x2="325.45" y2="810.3" stroke="#000" stroke-width="1.5"/>
<line x1="316.95" y1="913.4" x2="325.45" y2="913.4" stroke="#000" stroke-width="1.5"/>
<line x1="311.3" y1="862.7" x2="330.6" y2="862.7" stroke="#000" stroke-width="1.5"/>
<line x1="311.3" y1="858.7" x2="311.3" y2="866.7" stroke="#000" stroke-width="1.5"/>
<line x1="330.6" y1="858.7" x2="330.6" y2="866.7" stroke="#000" stroke-width="1.5"/>
<line x1="376" y1="779.3" x2="376" y2="914.6" stroke="#000" stroke-width="1.5"/>
<line x1="371.75" y1="779.3" x2="380.25" y2="779.3" stroke="#000" stroke-width="1.5"/>
<line x1="371.75" y1="914.6" x2="380.25" y2="914.6" stroke="#000" stroke-width="1.5"/>
<line x1="360.2" y1="846.7" x2="390.1" y2="846.7" stroke="#000" stroke-width="1.5"/>
<line x1="360.2" y1="842.7" x2="360.2" y2="850.7" stroke="#000" stroke-width="1.5"/>
<line x1="390.1" y1="842.7" x2="390.1" y2="850.7" stroke="#000" stroke-width="1.5"/>
<line x1="418" y1="724.5" x2="418" y2="829.1" stroke="#000" stroke-width="1.5"/>
<line x1="413.75" y1="724.5" x2="422.25" y2="724.5" stroke="#000" stroke-width="1.5"/>
<line x1="413.75" y1="829.1" x2="422.25" y2="829.1" stroke="#000" stroke-width="1.5"/>
<line x1="456" y1="710" x2="456" y2="742.1" stroke="#000" stroke-width="1.5"/>
<line x1="451.75" y1="710" x2="460.25" y2="710" stroke="#000" stroke-width="1.5"/>
<line x1="451.75" y1="742.1" x2="460.25" y2="742.1" stroke="#000" stroke-width="1.5"/>
<line x1="445.7" y1="726.5" x2="465.1" y2="726.5" stroke="#000" stroke-width="1.5"/>
<line x1="445.7" y1="722.5" x2="445.7" y2="730.5" stroke="#000" stroke-width="1.5"/>
<line x1="465.1" y1="722.5" x2="465.1" y2="730.5" stroke="#000" stroke-width="1.5"/>
<path d="M233.1 901.7 L242 910 L233.1 918.3 L224.2 910 Z" fill="#000"/>
<path d="M321.2 854.4 L330.1 862.7 L321.2 871 L312.3 862.7 Z" fill="#000"/>
<path d="M376 838.4 L384.9 846.7 L376 855 L367.1 846.7 Z" fill="#000"/>
<path d="M418 768.5 L426.9 776.8 L418 785.1 L409.1 776.8 Z" fill="#000"/>
<path d="M456 718.2 L464.9 726.5 L456 734.8 L447.1 726.5 Z" fill="#000"/>
<line x1="94.8" y1="857.9" x2="355.1" y2="857.9" stroke="#12ABEB" stroke-width="3.1" stroke-dasharray="11.9 8.98" stroke-dashoffset="0"/>
<line x1="353.5" y1="864" x2="353.5" y2="983.4" stroke="#12ABEB" stroke-width="3.1" stroke-dasharray="11.9 8.98" stroke-dashoffset="0"/>
<line x1="94.7" y1="793.5" x2="398.8" y2="793.5" stroke="#12ABEB" stroke-width="3.1" stroke-dasharray="11.9 8.98" stroke-dashoffset="0"/>
<line x1="404.5" y1="801.3" x2="404.5" y2="983.4" stroke="#12ABEB" stroke-width="3.1" stroke-dasharray="11.9 8.98" stroke-dashoffset="0"/>
<line x1="88.6" y1="642.8" x2="586.8" y2="642.8" stroke="#868686" stroke-width="2"/>
<line x1="88.6" y1="983.4" x2="586.8" y2="983.4" stroke="#868686" stroke-width="2"/>
<line x1="88.6" y1="641.8" x2="88.6" y2="984.4" stroke="#868686" stroke-width="2"/>
<line x1="586.8" y1="641.8" x2="586.8" y2="984.4" stroke="#000" stroke-width="2"/>
<line x1="82.6" y1="983.4" x2="88.6" y2="983.4" stroke="#868686" stroke-width="1.3"/>
<line x1="82.6" y1="945.56" x2="88.6" y2="945.56" stroke="#868686" stroke-width="1.3"/>
<line x1="82.6" y1="907.71" x2="88.6" y2="907.71" stroke="#868686" stroke-width="1.3"/>
<line x1="82.6" y1="869.87" x2="88.6" y2="869.87" stroke="#868686" stroke-width="1.3"/>
<line x1="82.6" y1="832.02" x2="88.6" y2="832.02" stroke="#868686" stroke-width="1.3"/>
<line x1="82.6" y1="794.18" x2="88.6" y2="794.18" stroke="#868686" stroke-width="1.3"/>
<line x1="82.6" y1="756.33" x2="88.6" y2="756.33" stroke="#868686" stroke-width="1.3"/>
<line x1="82.6" y1="718.49" x2="88.6" y2="718.49" stroke="#868686" stroke-width="1.3"/>
<line x1="82.6" y1="680.64" x2="88.6" y2="680.64" stroke="#868686" stroke-width="1.3"/>
<line x1="82.6" y1="642.8" x2="88.6" y2="642.8" stroke="#868686" stroke-width="1.3"/>
<line x1="88.6" y1="983.4" x2="88.6" y2="989.4" stroke="#868686" stroke-width="1.3"/>
<line x1="138.59" y1="983.4" x2="138.59" y2="987.9" stroke="#868686" stroke-width="1.3"/>
<line x1="167.84" y1="983.4" x2="167.84" y2="987.9" stroke="#868686" stroke-width="1.3"/>
<line x1="188.58" y1="983.4" x2="188.58" y2="987.9" stroke="#868686" stroke-width="1.3"/>
<line x1="204.68" y1="983.4" x2="204.68" y2="987.9" stroke="#868686" stroke-width="1.3"/>
<line x1="217.83" y1="983.4" x2="217.83" y2="987.9" stroke="#868686" stroke-width="1.3"/>
<line x1="228.95" y1="983.4" x2="228.95" y2="987.9" stroke="#868686" stroke-width="1.3"/>
<line x1="238.58" y1="983.4" x2="238.58" y2="987.9" stroke="#868686" stroke-width="1.3"/>
<line x1="247.07" y1="983.4" x2="247.07" y2="987.9" stroke="#868686" stroke-width="1.3"/>
<line x1="254.67" y1="983.4" x2="254.67" y2="989.4" stroke="#868686" stroke-width="1.3"/>
<line x1="304.66" y1="983.4" x2="304.66" y2="987.9" stroke="#868686" stroke-width="1.3"/>
<line x1="333.91" y1="983.4" x2="333.91" y2="987.9" stroke="#868686" stroke-width="1.3"/>
<line x1="354.65" y1="983.4" x2="354.65" y2="987.9" stroke="#868686" stroke-width="1.3"/>
<line x1="370.75" y1="983.4" x2="370.75" y2="987.9" stroke="#868686" stroke-width="1.3"/>
<line x1="383.9" y1="983.4" x2="383.9" y2="987.9" stroke="#868686" stroke-width="1.3"/>
<line x1="395.02" y1="983.4" x2="395.02" y2="987.9" stroke="#868686" stroke-width="1.3"/>
<line x1="404.65" y1="983.4" x2="404.65" y2="987.9" stroke="#868686" stroke-width="1.3"/>
<line x1="413.14" y1="983.4" x2="413.14" y2="987.9" stroke="#868686" stroke-width="1.3"/>
<line x1="420.74" y1="983.4" x2="420.74" y2="989.4" stroke="#868686" stroke-width="1.3"/>
<line x1="470.73" y1="983.4" x2="470.73" y2="987.9" stroke="#868686" stroke-width="1.3"/>
<line x1="499.98" y1="983.4" x2="499.98" y2="987.9" stroke="#868686" stroke-width="1.3"/>
<line x1="520.72" y1="983.4" x2="520.72" y2="987.9" stroke="#868686" stroke-width="1.3"/>
<line x1="536.82" y1="983.4" x2="536.82" y2="987.9" stroke="#868686" stroke-width="1.3"/>
<line x1="549.97" y1="983.4" x2="549.97" y2="987.9" stroke="#868686" stroke-width="1.3"/>
<line x1="561.09" y1="983.4" x2="561.09" y2="987.9" stroke="#868686" stroke-width="1.3"/>
<line x1="570.72" y1="983.4" x2="570.72" y2="987.9" stroke="#868686" stroke-width="1.3"/>
<line x1="579.21" y1="983.4" x2="579.21" y2="987.9" stroke="#868686" stroke-width="1.3"/>
<line x1="586.81" y1="983.4" x2="586.81" y2="989.4" stroke="#868686" stroke-width="1.3"/>
<line x1="88.3" y1="642.8" x2="88.3" y2="636.3" stroke="#868686" stroke-width="1.3"/>
<line x1="140.98" y1="642.8" x2="140.98" y2="638.3" stroke="#868686" stroke-width="1.3"/>
<line x1="171.8" y1="642.8" x2="171.8" y2="638.3" stroke="#868686" stroke-width="1.3"/>
<line x1="193.66" y1="642.8" x2="193.66" y2="638.3" stroke="#868686" stroke-width="1.3"/>
<line x1="210.62" y1="642.8" x2="210.62" y2="638.3" stroke="#868686" stroke-width="1.3"/>
<line x1="224.48" y1="642.8" x2="224.48" y2="638.3" stroke="#868686" stroke-width="1.3"/>
<line x1="236.19" y1="642.8" x2="236.19" y2="638.3" stroke="#868686" stroke-width="1.3"/>
<line x1="246.34" y1="642.8" x2="246.34" y2="638.3" stroke="#868686" stroke-width="1.3"/>
<line x1="255.29" y1="642.8" x2="255.29" y2="638.3" stroke="#868686" stroke-width="1.3"/>
<line x1="263.3" y1="642.8" x2="263.3" y2="636.3" stroke="#868686" stroke-width="1.3"/>
<line x1="315.98" y1="642.8" x2="315.98" y2="638.3" stroke="#868686" stroke-width="1.3"/>
<line x1="346.8" y1="642.8" x2="346.8" y2="638.3" stroke="#868686" stroke-width="1.3"/>
<line x1="368.66" y1="642.8" x2="368.66" y2="638.3" stroke="#868686" stroke-width="1.3"/>
<line x1="385.62" y1="642.8" x2="385.62" y2="638.3" stroke="#868686" stroke-width="1.3"/>
<line x1="399.48" y1="642.8" x2="399.48" y2="638.3" stroke="#868686" stroke-width="1.3"/>
<line x1="411.19" y1="642.8" x2="411.19" y2="638.3" stroke="#868686" stroke-width="1.3"/>
<line x1="421.34" y1="642.8" x2="421.34" y2="638.3" stroke="#868686" stroke-width="1.3"/>
<line x1="430.29" y1="642.8" x2="430.29" y2="638.3" stroke="#868686" stroke-width="1.3"/>
<line x1="438.3" y1="642.8" x2="438.3" y2="636.3" stroke="#868686" stroke-width="1.3"/>
<line x1="490.98" y1="642.8" x2="490.98" y2="638.3" stroke="#868686" stroke-width="1.3"/>
<line x1="521.8" y1="642.8" x2="521.8" y2="638.3" stroke="#868686" stroke-width="1.3"/>
<line x1="543.66" y1="642.8" x2="543.66" y2="638.3" stroke="#868686" stroke-width="1.3"/>
<line x1="560.62" y1="642.8" x2="560.62" y2="638.3" stroke="#868686" stroke-width="1.3"/>
<line x1="574.48" y1="642.8" x2="574.48" y2="638.3" stroke="#868686" stroke-width="1.3"/>
<line x1="586.19" y1="642.8" x2="586.19" y2="638.3" stroke="#868686" stroke-width="1.3"/>
<line x1="586.8" y1="642.8" x2="586.8" y2="638.3" stroke="#868686" stroke-width="1.3"/>
<text x="16.08" y="24.4" font-size="26.5" stroke="#000" stroke-width="0.3" textLength="23.24" lengthAdjust="spacingAndGlyphs">a)</text>
<text x="230.32" y="19.7" font-size="24" font-weight="bold" stroke="#000" stroke-width="0.25" textLength="211.27" lengthAdjust="spacingAndGlyphs">Mass dose, µg/cm<tspan baseline-shift="2.4">²</tspan></text>
<text x="82.88" y="54.9" font-size="16.4" stroke="#000" stroke-width="0.3" textLength="24.03" lengthAdjust="spacingAndGlyphs">0.1</text>
<text x="262.12" y="54.7" font-size="16.4" stroke="#000" stroke-width="0.3" textLength="9.49" lengthAdjust="spacingAndGlyphs">1</text>
<text x="430.52" y="54.6" font-size="16.4" stroke="#000" stroke-width="0.3" textLength="18.51" lengthAdjust="spacingAndGlyphs">10</text>
<text x="52.53" y="416.9" font-size="16.4" stroke="#000" stroke-width="0.3" textLength="24.65" lengthAdjust="spacingAndGlyphs">-20</text>
<text x="67.23" y="379.42" font-size="16.4" stroke="#000" stroke-width="0.3" textLength="9.49" lengthAdjust="spacingAndGlyphs">0</text>
<text x="57.87" y="341.94" font-size="16.4" stroke="#000" stroke-width="0.3" textLength="18.96" lengthAdjust="spacingAndGlyphs">20</text>
<text x="57.87" y="304.47" font-size="16.4" stroke="#000" stroke-width="0.3" textLength="18.96" lengthAdjust="spacingAndGlyphs">40</text>
<text x="57.87" y="266.99" font-size="16.4" stroke="#000" stroke-width="0.3" textLength="18.96" lengthAdjust="spacingAndGlyphs">60</text>
<text x="57.87" y="229.51" font-size="16.4" stroke="#000" stroke-width="0.3" textLength="18.96" lengthAdjust="spacingAndGlyphs">80</text>
<text x="48.46" y="192.03" font-size="16.4" stroke="#000" stroke-width="0.3" textLength="28.45" lengthAdjust="spacingAndGlyphs">100</text>
<text x="48.46" y="154.56" font-size="16.4" stroke="#000" stroke-width="0.3" textLength="28.45" lengthAdjust="spacingAndGlyphs">120</text>
<text x="48.46" y="117.08" font-size="16.4" stroke="#000" stroke-width="0.3" textLength="28.45" lengthAdjust="spacingAndGlyphs">140</text>
<text x="48.46" y="79.6" font-size="16.4" stroke="#000" stroke-width="0.3" textLength="28.45" lengthAdjust="spacingAndGlyphs">160</text>
<text x="78.51" y="441.9" font-size="16.4" stroke="#000" stroke-width="0.3" textLength="33.18" lengthAdjust="spacingAndGlyphs">0.01</text>
<text x="244.59" y="441.9" font-size="16.4" stroke="#000" stroke-width="0.3" textLength="23.71" lengthAdjust="spacingAndGlyphs">0.1</text>
<text x="413.02" y="441.9" font-size="16.4" stroke="#000" stroke-width="0.3" textLength="9.49" lengthAdjust="spacingAndGlyphs">1</text>
<text x="569.43" y="441.9" font-size="16.4" stroke="#000" stroke-width="0.3" textLength="18.96" lengthAdjust="spacingAndGlyphs">10</text>
<text x="329.78" y="431.5" font-size="16" font-weight="bold" fill="#12ABEB" stroke="#12ABEB" stroke-width="0.25" textLength="32.64" lengthAdjust="spacingAndGlyphs">0.39</text>
<text x="385.19" y="431.5" font-size="16" font-weight="bold" fill="#12ABEB" stroke="#12ABEB" stroke-width="0.25" textLength="32.24" lengthAdjust="spacingAndGlyphs">0.82</text>
<text x="328.9" y="318.32" font-size="18.4" font-weight="bold" fill="#12ABEB" stroke="#12ABEB" stroke-width="0.25" textLength="88.9" lengthAdjust="spacingAndGlyphs" transform="rotate(90 328.9 318.32)">Onset dose</text>
<text x="380.2" y="364.32" font-size="21" font-weight="bold" fill="#12ABEB" stroke="#12ABEB" stroke-width="0.25" textLength="39.59" lengthAdjust="spacingAndGlyphs" transform="rotate(90 380.2 364.32)">IC50</text>
<text x="461.38" y="105.5" font-size="16.4" stroke="#000" stroke-width="0.3" textLength="98.9" lengthAdjust="spacingAndGlyphs">CL95% lower</text>
<text x="461.4" y="132.35" font-size="16.4" stroke="#000" stroke-width="0.3" textLength="99.29" lengthAdjust="spacingAndGlyphs">CL95% upper</text>
<text x="461.3" y="159.2" font-size="16.4" stroke="#000" stroke-width="0.3" textLength="94.04" lengthAdjust="spacingAndGlyphs">Sigmoidal fit</text>
<text x="467.08" y="342" font-size="19.3" stroke="#000" stroke-width="0.3" textLength="103.78" lengthAdjust="spacingAndGlyphs">R<tspan baseline-shift="2.4">²</tspan> = 0.9897</text>
<text x="176.35" y="484" font-size="24" font-weight="bold" stroke="#000" stroke-width="0.25" textLength="299.22" lengthAdjust="spacingAndGlyphs">Surface area dose, cm<tspan baseline-shift="2.4">²</tspan>/cm<tspan baseline-shift="2.4">²</tspan></text>
<text x="35.4" y="299.79" font-size="24.4" font-weight="bold" stroke="#000" stroke-width="0.25" textLength="121.21" lengthAdjust="spacingAndGlyphs" transform="rotate(-90 35.4 299.79)">Viability, %</text>
<text x="-0.72" y="591.3" font-size="26.5" stroke="#000" stroke-width="0.3" textLength="23.24" lengthAdjust="spacingAndGlyphs">b)</text>
<text x="233.53" y="587.8" font-size="24" font-weight="bold" stroke="#000" stroke-width="0.25" textLength="208.66" lengthAdjust="spacingAndGlyphs">Mass dose, µg/cm<tspan baseline-shift="2.4">²</tspan></text>
<text x="76.21" y="622.6" font-size="16.4" stroke="#000" stroke-width="0.3" textLength="22.97" lengthAdjust="spacingAndGlyphs">0.1</text>
<text x="258.42" y="622.6" font-size="16.4" stroke="#000" stroke-width="0.3" textLength="9.49" lengthAdjust="spacingAndGlyphs">1</text>
<text x="428.43" y="622.6" font-size="16.4" stroke="#000" stroke-width="0.3" textLength="18.96" lengthAdjust="spacingAndGlyphs">10</text>
<text x="60.03" y="988.4" font-size="16.4" stroke="#000" stroke-width="0.3" textLength="9.49" lengthAdjust="spacingAndGlyphs">0</text>
<text x="50.67" y="950.56" font-size="16.4" stroke="#000" stroke-width="0.3" textLength="18.96" lengthAdjust="spacingAndGlyphs">10</text>
<text x="50.67" y="912.71" font-size="16.4" stroke="#000" stroke-width="0.3" textLength="18.96" lengthAdjust="spacingAndGlyphs">20</text>
<text x="50.67" y="874.87" font-size="16.4" stroke="#000" stroke-width="0.3" textLength="18.96" lengthAdjust="spacingAndGlyphs">30</text>
<text x="50.67" y="837.02" font-size="16.4" stroke="#000" stroke-width="0.3" textLength="18.96" lengthAdjust="spacingAndGlyphs">40</text>
<text x="50.67" y="799.18" font-size="16.4" stroke="#000" stroke-width="0.3" textLength="18.96" lengthAdjust="spacingAndGlyphs">50</text>
<text x="50.67" y="761.33" font-size="16.4" stroke="#000" stroke-width="0.3" textLength="18.96" lengthAdjust="spacingAndGlyphs">60</text>
<text x="50.67" y="723.49" font-size="16.4" stroke="#000" stroke-width="0.3" textLength="18.96" lengthAdjust="spacingAndGlyphs">70</text>
<text x="50.67" y="685.64" font-size="16.4" stroke="#000" stroke-width="0.3" textLength="18.96" lengthAdjust="spacingAndGlyphs">80</text>
<text x="50.67" y="647.8" font-size="16.4" stroke="#000" stroke-width="0.3" textLength="18.96" lengthAdjust="spacingAndGlyphs">90</text>
<text x="72.01" y="1013.2" font-size="16.4" stroke="#000" stroke-width="0.3" textLength="33.18" lengthAdjust="spacingAndGlyphs">0.01</text>
<text x="242.76" y="1013.2" font-size="16.4" stroke="#000" stroke-width="0.3" textLength="23.71" lengthAdjust="spacingAndGlyphs">0.1</text>
<text x="415.86" y="1013.2" font-size="16.4" stroke="#000" stroke-width="0.3" textLength="9.49" lengthAdjust="spacingAndGlyphs">1</text>
<text x="578" y="1013.2" font-size="16.4" stroke="#000" stroke-width="0.3" textLength="18.96" lengthAdjust="spacingAndGlyphs">10</text>
<text x="334.6" y="1009.8" font-size="16" font-weight="bold" fill="#12ABEB" stroke="#12ABEB" stroke-width="0.25" textLength="22.73" lengthAdjust="spacingAndGlyphs">0.4</text>
<text x="376.18" y="1009.8" font-size="16" font-weight="bold" fill="#12ABEB" stroke="#12ABEB" stroke-width="0.25" textLength="33.05" lengthAdjust="spacingAndGlyphs">0.86</text>
<text x="359.2" y="892.73" font-size="18.4" font-weight="bold" fill="#12ABEB" stroke="#12ABEB" stroke-width="0.25" textLength="88.19" lengthAdjust="spacingAndGlyphs" transform="rotate(90 359.2 892.73)">Onset dose</text>
<text x="418.2" y="939.6" font-size="21" font-weight="bold" fill="#12ABEB" stroke="#12ABEB" stroke-width="0.25" textLength="40.31" lengthAdjust="spacingAndGlyphs" transform="rotate(90 418.2 939.6)">IC50</text>
<text x="151.68" y="668.6" font-size="16.4" stroke="#000" stroke-width="0.3" textLength="98.5" lengthAdjust="spacingAndGlyphs">CL95% lower</text>
<text x="151.68" y="693.4" font-size="16.4" stroke="#000" stroke-width="0.3" textLength="101.21" lengthAdjust="spacingAndGlyphs">CL95% upper</text>
<text x="151.57" y="717.6" font-size="16.4" stroke="#000" stroke-width="0.3" textLength="96.66" lengthAdjust="spacingAndGlyphs">Sigmoidol fit</text>
<text x="472.88" y="700.6" font-size="19.3" stroke="#000" stroke-width="0.3" textLength="103.69" lengthAdjust="spacingAndGlyphs">R<tspan baseline-shift="2.4">²</tspan> = 0.9806</text>
<text x="175.25" y="1054" font-size="24" font-weight="bold" stroke="#000" stroke-width="0.25" textLength="299.12" lengthAdjust="spacingAndGlyphs">Surface area dose, cm<tspan baseline-shift="2.4">²</tspan>/cm<tspan baseline-shift="2.4">²</tspan></text>
<text x="30.7" y="977.03" font-size="24.8" font-weight="bold" stroke="#000" stroke-width="0.25" textLength="331.71" lengthAdjust="spacingAndGlyphs" transform="rotate(-90 30.7 977.03)">LDH release, % of high control</text>
<line x1="407.6" y1="100.1" x2="420.5" y2="100.1" stroke="#000" stroke-width="4.3" stroke-linecap="round"/>
<line x1="437.8" y1="100.1" x2="450.7" y2="100.1" stroke="#000" stroke-width="4.3" stroke-linecap="round"/>
<line x1="407.6" y1="126.95" x2="420.5" y2="126.95" stroke="#000" stroke-width="4.3" stroke-linecap="round"/>
<line x1="437.8" y1="126.95" x2="450.7" y2="126.95" stroke="#000" stroke-width="4.3" stroke-linecap="round"/>
<line x1="407.8" y1="153.8" x2="454.8" y2="153.8" stroke="#000" stroke-width="4.3" stroke-linecap="round"/>
<line x1="98.6" y1="663.1" x2="111.7" y2="663.1" stroke="#000" stroke-width="4.3" stroke-linecap="round"/>
<line x1="129.4" y1="663.1" x2="142.3" y2="663.1" stroke="#000" stroke-width="4.3" stroke-linecap="round"/>
<line x1="98.6" y1="687.9" x2="111.7" y2="687.9" stroke="#000" stroke-width="4.3" stroke-linecap="round"/>
<line x1="129.4" y1="687.9" x2="142.3" y2="687.9" stroke="#000" stroke-width="4.3" stroke-linecap="round"/>
<line x1="98.8" y1="713.3" x2="146.6" y2="713.3" stroke="#000" stroke-width="2.9" stroke-linecap="round"/>
</svg></body></html>
